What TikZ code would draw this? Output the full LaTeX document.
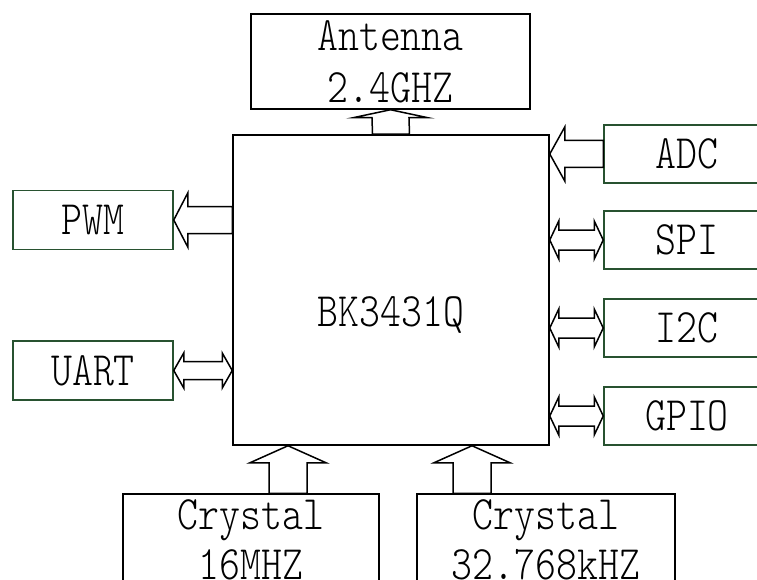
\documentclass[tikz,border=0pt]{standalone}
\usepackage{fontspec}
\usepackage{tikz}
\usetikzlibrary{calc}

\newfontfamily\blockfont[Extension=.otf,FakeStretch=0.83]{lmmonolt10-regular}
\definecolor{boxgreen}{RGB}{40,82,48}

\tikzset{
  box/.style={draw, line width=1.5pt, inner sep=0pt, align=center,
    font=\blockfont\fontsize{48}{52}\selectfont},
  gbox/.style={box, draw=boxgreen},
  fat/.style={draw, line width=1.5pt, line join=miter}
}

\begin{document}
\begin{tikzpicture}[x=1pt,y=-1pt]
    \useasboundingbox (0,0) rectangle (757,580);
    \clip (0,0) rectangle (757,580);
    % chip
    \node[box, minimum width=316pt, minimum height=310pt] (chip) at (391,290) {};
    \node[font=\blockfont\fontsize{48}{52}\selectfont] (chipname) at (391,315.5) {BK3431Q};
    % top and bottom
    \node[box, minimum width=279pt, minimum height=95pt] (ant) at (390.5,61.5) {Antenna\\2.4GHZ};
    \node[box, minimum width=256pt, minimum height=92pt, font=\blockfont\fontsize{48}{50}\selectfont]
      (xtal1) at (251,540) {Crystal\\16MHZ};
    \node[box, minimum width=258pt, minimum height=92pt, font=\blockfont\fontsize{48}{50}\selectfont]
      (xtal2) at (546,540) {Crystal\\32.768kHZ};
    % left
    \node[gbox, minimum width=160pt, minimum height=59pt] (pwm) at (93,220) {PWM};
    \node[gbox, minimum width=160pt, minimum height=59pt] (uart) at (93,370.5) {UART};
    % right
    \node[gbox, minimum width=166pt, minimum height=58pt] (adc) at (687,154) {ADC};
    \node[gbox, minimum width=166pt, minimum height=58pt] (spi) at (687,240) {SPI};
    \node[gbox, minimum width=166pt, minimum height=58pt] (i2c) at (687,328) {I2C};
    \node[gbox, minimum width=166pt, minimum height=58pt] (gpio) at (687,416) {GPIO};

    % fat arrows
    \draw[fat] ($(chip.north)+(-18.5,0)$) -- ($(ant.south)+(-18.5,8)$) -- ++(-19,0) -- (ant.south)
      -- ++(37.5,8) -- ++(-19,0) -- ($(chip.north)+(18.5,0)$) -- cycle;
    \coordinate (x1t) at ($(xtal1.north)+(37,0)$);
    \coordinate (x2t) at ($(xtal2.north)+(-74,0)$);
    \draw[fat] ($(x1t)+(-19,0)$) -- ($(x1t|-chip.south)+(-19,17)$) -- ++(-19,0) -- (x1t|-chip.south)
      -- ++(38,17) -- ++(-19,0) -- ($(x1t)+(19,0)$) -- cycle;
    \draw[fat] ($(x2t)+(-19,0)$) -- ($(x2t|-chip.south)+(-19,17)$) -- ++(-19,0) -- (x2t|-chip.south)
      -- ++(38,17) -- ++(-19,0) -- ($(x2t)+(19,0)$) -- cycle;
    \draw[fat] ($(adc.west)+(0,-13.5)$) -- ($(chip.east|-adc.west)+(15,-13.5)$) -- ++(0,-13.5)
      -- (chip.east|-adc.west) -- ++(15,27) -- ++(0,-13.5) -- ($(adc.west)+(0,13.5)$) -- cycle;
    \draw[fat] ($(chip.west|-pwm.east)+(0,-13.5)$) -- ($(pwm.east)+(14,-13.5)$) -- ++(0,-13.5)
      -- (pwm.east) -- ++(14,27) -- ++(0,-13.5) -- ($(chip.west|-pwm.east)+(0,13.5)$) -- cycle;

    % two-way arrows
    \draw[fat] (uart.east) -- ++(10,-17.5) -- ++(0,8.5) -- ($(chip.west|-uart.east)+(-10,-9)$) -- ++(0,-8.5)
      -- (chip.west|-uart.east) -- ++(-10,17.5) -- ++(0,-8.5) -- ($(uart.east)+(10,9)$) -- ++(0,8.5) -- cycle;
    \draw[fat] (chip.east|-spi.west) -- ++(9,-19) -- ++(0,9) -- ($(spi.west)+(-9,-10)$) -- ++(0,-9)
      -- (spi.west) -- ++(-9,19) -- ++(0,-9) -- ($(chip.east|-spi.west)+(9,10)$) -- ++(0,9) -- cycle;
    \draw[fat] (chip.east|-i2c.west) -- ++(9,-19) -- ++(0,9) -- ($(i2c.west)+(-9,-10)$) -- ++(0,-9)
      -- (i2c.west) -- ++(-9,19) -- ++(0,-9) -- ($(chip.east|-i2c.west)+(9,10)$) -- ++(0,9) -- cycle;
    \draw[fat] (chip.east|-gpio.west) -- ++(9,-19) -- ++(0,9) -- ($(gpio.west)+(-9,-10)$) -- ++(0,-9)
      -- (gpio.west) -- ++(-9,19) -- ++(0,-9) -- ($(chip.east|-gpio.west)+(9,10)$) -- ++(0,9) -- cycle;
\end{tikzpicture}
\end{document}
